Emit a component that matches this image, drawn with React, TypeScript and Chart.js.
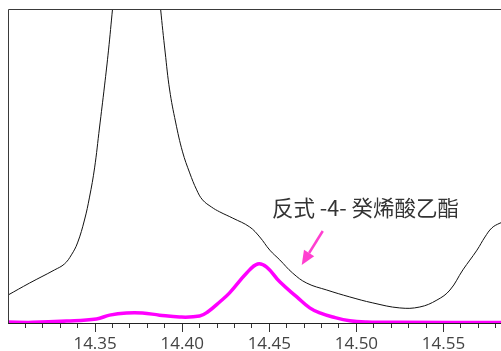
import React, { useEffect, useRef } from 'react';
import { Chart, registerables } from 'chart.js';

Chart.register(...registerables);

const xMin = 14.3;
const xMax = 14.583;
const yMin = 0;
const yMax = 100;

// Black trace (total ion chromatogram); values above 100 are clipped by the frame
const blackX = [
  14.3, 14.3123, 14.3267, 14.3324, 14.3364, 14.3399, 14.3439, 14.3468, 14.3497, 14.3525,
  14.3554, 14.3577, 14.36, 14.3617, 14.364, 14.374, 14.384, 14.386, 14.3876, 14.3902,
  14.3928, 14.3962, 14.4002, 14.4043, 14.4083, 14.4117, 14.4169, 14.4215, 14.429, 14.4387,
  14.4445, 14.4503, 14.456, 14.4634, 14.4715, 14.483, 14.4962, 14.5094, 14.5249, 14.5364,
  14.5462, 14.5537, 14.5611, 14.5692, 14.5738, 14.5778, 14.5824, 14.586,
];
const blackY = [
  8.9, 12.7, 16.9, 18.8, 21.7, 25.5, 32.8, 40.1, 49.4, 62.1,
  75.5, 86.9, 100, 109.6, 125, 180, 125, 110, 100, 86.3,
  74.2, 64.0, 54.5, 47.8, 42.4, 39.2, 36.9, 35.4, 33.4, 30.6,
  27.4, 23.2, 20.1, 15.9, 12.7, 10.5, 8.3, 6.4, 4.8, 5.1,
  7.3, 10.5, 16.9, 23.2, 27.4, 30.3, 31.8, 32.5,
];

// Magenta trace (extracted ion)
const magentaX = [
  14.3, 14.314, 14.3336, 14.3508, 14.3583, 14.368, 14.3772, 14.387, 14.3985, 14.41,
  14.4146, 14.4215, 14.4272, 14.437, 14.4433, 14.4485, 14.456, 14.4658, 14.4732, 14.479,
  14.4865, 14.4962, 14.506, 14.525, 14.586,
];
const magentaY = [
  0.3, 0.2, 0.6, 1.3, 2.5, 3.2, 3.2, 2.5, 1.9, 2.2,
  3.5, 6.7, 9.6, 15.9, 18.8, 17.8, 13.1, 8.3, 4.8, 3.2,
  1.9, 0.7, 0.3, 0.2, 0.2,
];

const majorTicks = [14.35, 14.4, 14.45, 14.5, 14.55];
const minorTicks: number[] = [];
for (let i = 1; i <= 28; i++) minorTicks.push(Number((14.3 + i * 0.01).toFixed(2)));

const annotationText = '反式 -4- 癸烯酸乙酯';
const annotationAt = [14.4515, 36.6];
const arrowFrom = [14.4807, 29.3];
const arrowTo = [14.4686, 18.5];

const toPoints = (xs: number[], ys: number[]) => xs.map((x, i) => ({ x, y: ys[i] }));

export default function App() {
  const ref = useRef<HTMLCanvasElement | null>(null);

  useEffect(() => {
    if (!ref.current) return;

    const decorations = {
      id: 'decorations',
      afterDraw(chart: any) {
        const { ctx, chartArea } = chart;
        const xs = chart.scales.x;
        const ys = chart.scales.y;
        ctx.save();
        // frame: left and top
        ctx.strokeStyle = '#3a3a3a';
        ctx.lineWidth = 1;
        ctx.beginPath();
        ctx.moveTo(chartArea.left + 0.5, chartArea.bottom);
        ctx.lineTo(chartArea.left + 0.5, chartArea.top + 0.5);
        ctx.lineTo(chartArea.right, chartArea.top + 0.5);
        ctx.stroke();

        // arrow
        const x1 = xs.getPixelForValue(arrowFrom[0]);
        const y1 = ys.getPixelForValue(arrowFrom[1]);
        const x2 = xs.getPixelForValue(arrowTo[0]);
        const y2 = ys.getPixelForValue(arrowTo[1]);
        const ang = Math.atan2(y2 - y1, x2 - x1);
        const headLen = 14;
        const headHalf = 6;
        const bx = x2 - headLen * Math.cos(ang);
        const by = y2 - headLen * Math.sin(ang);
        ctx.strokeStyle = '#ff3fd0';
        ctx.fillStyle = '#ff3fd0';
        ctx.lineWidth = 2.5;
        ctx.beginPath();
        ctx.moveTo(x1, y1);
        ctx.lineTo(bx, by);
        ctx.stroke();
        ctx.beginPath();
        ctx.moveTo(x2, y2);
        ctx.lineTo(bx + headHalf * Math.sin(ang), by - headHalf * Math.cos(ang));
        ctx.lineTo(bx - headHalf * Math.sin(ang), by + headHalf * Math.cos(ang));
        ctx.closePath();
        ctx.fill();

        // annotation text
        ctx.fillStyle = '#333333';
        ctx.font = '21.5px "Noto Sans CJK SC", "Noto Sans", sans-serif';
        ctx.textAlign = 'left';
        ctx.textBaseline = 'middle';
        ctx.fillText(
          annotationText,
          xs.getPixelForValue(annotationAt[0]),
          ys.getPixelForValue(annotationAt[1])
        );
        ctx.restore();
      },
    };

    const chart = new Chart(ref.current, {
      type: 'line',
      data: {
        datasets: [
          {
            data: toPoints(magentaX, magentaY),
            borderColor: '#ff00ff',
            borderWidth: 3.5,
            pointRadius: 0,
            tension: 0.4,
            fill: false,
          },
          {
            data: toPoints(blackX, blackY),
            borderColor: '#111111',
            borderWidth: 1,
            pointRadius: 0,
            tension: 0.4,
            fill: false,
          },
        ],
      },
      options: {
        animation: false,
        responsive: false,
        events: [],
        layout: { padding: { left: 8, top: 9, right: 0, bottom: 0 } },
        plugins: { legend: { display: false }, tooltip: { enabled: false } },
        scales: {
          x: {
            type: 'linear',
            position: 'bottom',
            min: xMin,
            max: xMax,
            weight: 0,
            ticks: { display: false, autoSkip: false },
            afterBuildTicks: (s: any) => {
              s.ticks = minorTicks.filter((v) => v <= xMax).map((v) => ({ value: v }));
            },
            afterFit: (s: any) => {
              s.height = 0;
            },
            grid: {
              drawOnChartArea: false,
              drawTicks: true,
              tickLength: 5,
              tickColor: '#333333',
              tickWidth: 1,
            },
            border: { display: true, color: '#222222', width: 1 },
          },
          x2: {
            type: 'linear',
            position: 'bottom',
            min: xMin,
            max: xMax,
            weight: 1,
            ticks: {
              autoSkip: false,
              maxRotation: 0,
              padding: 2,
              color: '#444444',
              font: { family: '"Open Sans", sans-serif', size: 17 },
              callback: (v: any) => Number(v).toFixed(2),
            },
            afterBuildTicks: (s: any) => {
              s.ticks = majorTicks.map((v) => ({ value: v }));
            },
            afterFit: (s: any) => {
              s.height = 28;
            },
            grid: {
              drawOnChartArea: false,
              drawTicks: true,
              tickLength: 9,
              tickColor: '#333333',
              tickWidth: 1,
            },
            border: { display: false },
          },
          y: {
            type: 'linear',
            display: false,
            min: yMin,
            max: yMax,
          },
        },
      },
      plugins: [decorations],
    } as any);

    return () => chart.destroy();
  }, []);

  return (
    <div style={{ position: 'fixed', left: 0, top: 0, width: 501, height: 351, background: '#fff' }}>
      <canvas ref={ref} width={501} height={351} style={{ display: 'block', width: 501, height: 351 }} />
    </div>
  );
}
